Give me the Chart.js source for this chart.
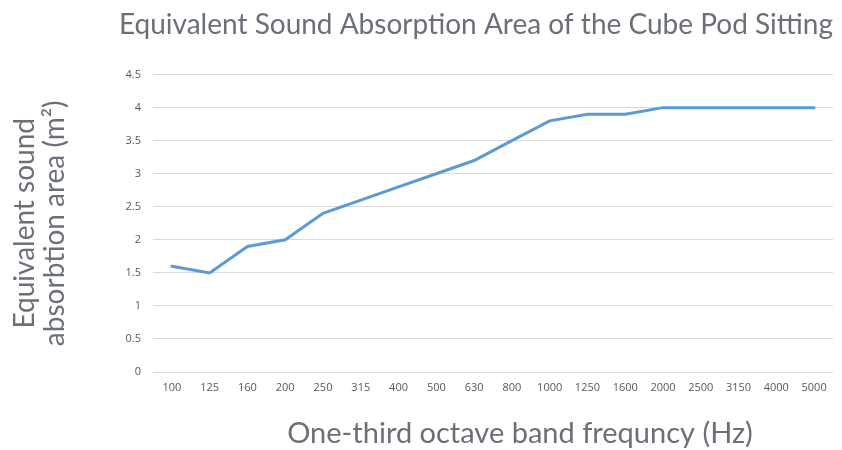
<!DOCTYPE html>
<html>
<head>
<meta charset="utf-8">
<script src="https://cdn.jsdelivr.net/npm/chart.js@4"></script>
<style>
  html, body { margin: 0; padding: 0; background: #fff; }
  #wrap { width: 842px; height: 450px; }
</style>
</head>
<body>
<div id="wrap"><canvas id="absChart"></canvas></div>
<script>
// bandes de tiers d'octave (Hz)
const frequencies = ['100', '125', '160', '200', '250', '315', '400', '500', '630', '800',
    '1000', '1250', '1600', '2000', '2500', '3150', '4000', '5000'];
// aire d'absorption equivalente (m2)
const absorptionArea = [1.6, 1.5, 1.9, 2.0, 2.4, 2.6, 2.8, 3.0, 3.2, 3.5,
    3.8, 3.9, 3.9, 4.0, 4.0, 4.0, 4.0, 4.0];
const yTicks = [0, 0.5, 1, 1.5, 2, 2.5, 3, 3.5, 4, 4.5];
const xTitle = 'One-third octave band frequncy (Hz)';

const titleColor = '#6b7078';
const tickColor = '#595959';

// titre de l'axe x, un peu decale a droite comme dans l'original
const xTitlePlugin = {
    id: 'xTitle',
    afterDraw(chart) {
        const c = chart.ctx;
        const area = chart.chartArea;
        c.save();
        c.font = '29px Lato';
        c.fillStyle = titleColor;
        c.textAlign = 'center';
        c.textBaseline = 'middle';
        c.fillText(xTitle, (area.left + area.right) / 2 + 27, area.bottom + 62);
        c.restore();
    }
};

const ctx = document.getElementById('absChart').getContext('2d');
new Chart(ctx, {
    type: 'line',
    data: {
        labels: frequencies,
        datasets: [{
            data: absorptionArea,
            borderColor: '#5b9bd5',
            borderWidth: 3,
            borderCapStyle: 'round',
            pointRadius: 0,
            tension: 0,
            fill: false
        }]
    },
    options: {
        responsive: true,
        maintainAspectRatio: false,
        animation: false,
        layout: { padding: { left: 8, right: 9, top: 8, bottom: 2 } },
        plugins: {
            legend: { display: false },
            tooltip: { enabled: false },
            title: {
                display: true,
                text: 'Equivalent Sound Absorption Area of the Cube Pod Sitting',
                align: 'end',
                color: titleColor,
                font: { family: 'Lato', size: 28, weight: 'normal' },
                padding: { top: 0, bottom: 33 }
            }
        },
        scales: {
            x: {
                offset: true,
                afterFit: axis => { axis.height = 76; },
                grid: { display: false, drawTicks: false },
                border: { display: false },
                ticks: {
                    color: tickColor,
                    font: { family: 'Open Sans', size: 11 },
                    maxRotation: 0,
                    autoSkip: false,
                    padding: 9
                }
            },
            y: {
                min: 0,
                max: 4.5,
                afterBuildTicks: axis => { axis.ticks = yTicks.map(v => ({ value: v })); },
                afterFit: axis => { axis.width = 145; },
                grid: { color: '#d9d9d9', lineWidth: 1, drawTicks: false },
                border: { display: false },
                ticks: {
                    color: tickColor,
                    font: { family: 'Open Sans', size: 11 },
                    padding: 12,
                    callback: value => String(value)
                },
                title: {
                    display: true,
                    text: ['Equivalent sound', 'absorbtion area (m\u00B2)'],
                    color: titleColor,
                    font: { family: 'Lato', size: 28, weight: 'normal', lineHeight: 1.07 },
                    padding: { top: 2, bottom: 0 }
                }
            }
        }
    },
    plugins: [xTitlePlugin]
});
</script>
</body>
</html>
